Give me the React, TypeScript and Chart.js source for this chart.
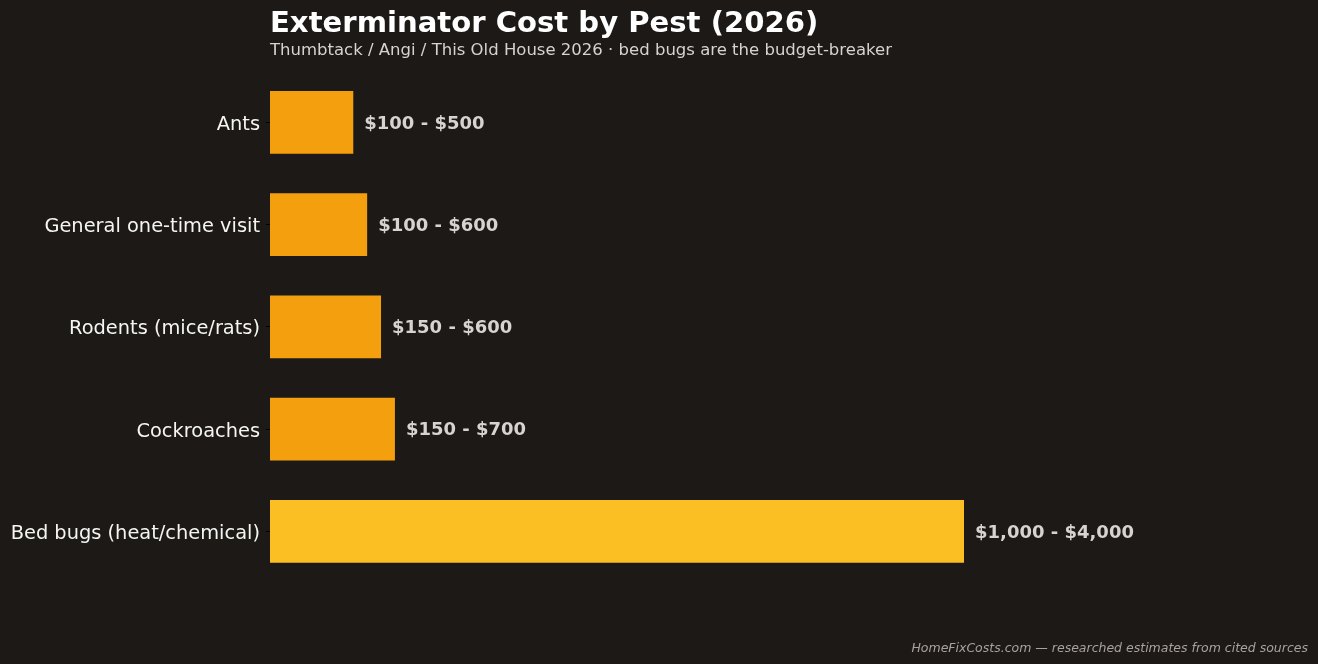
import React, { useEffect, useRef } from "react";
import { Chart, registerables } from "chart.js";

Chart.register(...registerables);

const categories = [
  "Ants",
  "General one-time visit",
  "Rodents (mice/rats)",
  "Cockroaches",
  "Bed bugs (heat/chemical)",
];
const lowCosts = [100, 100, 150, 150, 1000];
const highCosts = [500, 600, 600, 700, 4000];
const typicalCosts = [300, 350, 400, 450, 2500];
const barColors = ["#f4a00e", "#f4a00e", "#f4a00e", "#f4a00e", "#fbbf24"];

const TITLE = "Exterminator Cost by Pest (2026)";
const SUBTITLE = "Thumbtack / Angi / This Old House 2026 · bed bugs are the budget-breaker";
const FOOTER = "HomeFixCosts.com — researched estimates from cited sources";

const FONT = "'DejaVu Sans', sans-serif";
const fmt = (v: number) => "$" + v.toLocaleString("en-US");

export default function App() {
  const ref = useRef<HTMLCanvasElement | null>(null);

  useEffect(() => {
    if (!ref.current) return;
    const bgPlugin = {
      id: "bg",
      beforeDraw(chart: any) {
        const ctx = chart.ctx;
        ctx.save();
        ctx.fillStyle = "#1c1917";
        ctx.fillRect(0, 0, chart.width, chart.height);
        ctx.restore();
      },
    };
    const textPlugin = {
      id: "texts",
      afterDatasetsDraw(chart: any) {
        const ctx = chart.ctx;
        ctx.save();
        const meta = chart.getDatasetMeta(0);
        ctx.font = `bold 18px ${FONT}`;
        ctx.fillStyle = "#d6d3d1";
        ctx.textAlign = "left";
        ctx.textBaseline = "middle";
        meta.data.forEach((bar: any, i: number) => {
          ctx.fillText(`${fmt(lowCosts[i])} - ${fmt(highCosts[i])}`, bar.x + 11, bar.y + 1.5);
        });
        ctx.textBaseline = "alphabetic";
        ctx.font = `bold 29.1px ${FONT}`;
        ctx.fillStyle = "#ffffff";
        ctx.fillText(TITLE, 270, 32);
        ctx.font = `16.5px ${FONT}`;
        ctx.fillStyle = "#d6d3d1";
        ctx.fillText(SUBTITLE, 270, 55);
        ctx.font = `italic 12.5px ${FONT}`;
        ctx.fillStyle = "#a8a29e";
        ctx.textAlign = "right";
        ctx.fillText(FOOTER, 1308, 652);
        ctx.restore();
      },
    };
    const chart = new Chart(ref.current, {
      type: "bar",
      data: {
        labels: categories,
        datasets: [
          {
            data: typicalCosts,
            backgroundColor: barColors,
            borderWidth: 0,
            barPercentage: 0.614,
            categoryPercentage: 1,
          },
        ],
      },
      options: {
        indexAxis: "y",
        responsive: false,
        animation: false,
        devicePixelRatio: 1,
        layout: { padding: { left: 0, top: 71.2, right: 7, bottom: 81.5 } },
        plugins: {
          legend: { display: false },
          tooltip: { enabled: false },
          title: { display: false },
        },
        scales: {
          x: { display: false, min: 0, max: 3750 },
          y: {
            afterFit: (scale: any) => {
              scale.width = 270;
            },
            border: { display: false },
            grid: {
              display: true,
              offset: false,
              drawOnChartArea: false,
              drawTicks: true,
              tickLength: 4,
              color: "#000000",
            },
            ticks: {
              color: "#f5f5f4",
              font: { family: FONT, size: 19.4 },
              padding: 6,
              labelOffset: 2.5,
            },
          },
        },
      },
      plugins: [bgPlugin, textPlugin],
    });
    return () => chart.destroy();
  }, []);

  return (
    <div style={{ position: "absolute", left: 0, top: 0, width: 1318, height: 664, background: "#1c1917" }}>
      <canvas ref={ref} width={1318} height={664} style={{ display: "block" }} />
    </div>
  );
}
